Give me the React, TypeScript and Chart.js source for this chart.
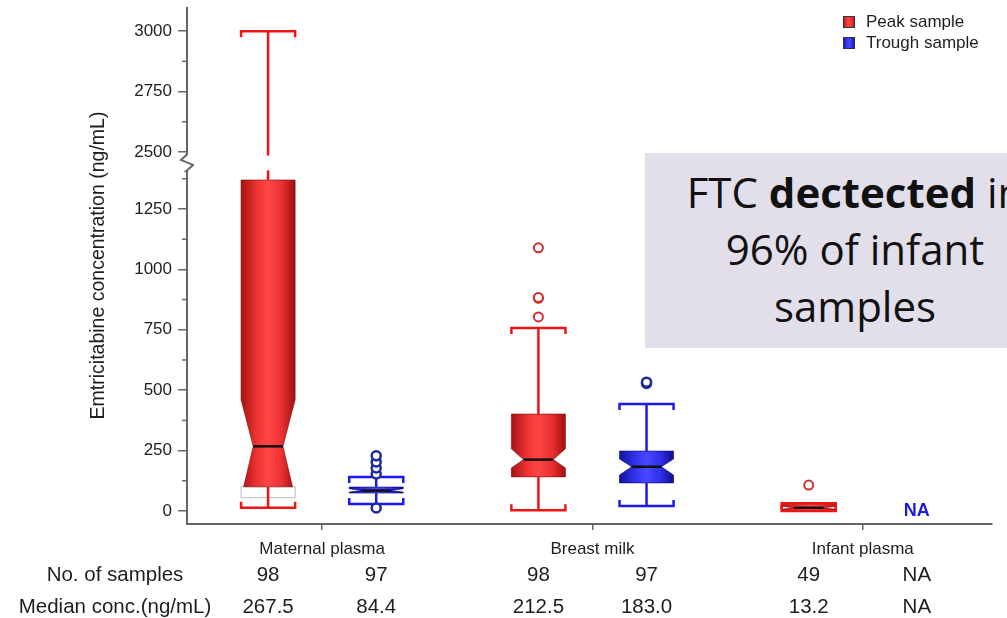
import React, { useEffect, useRef } from 'react';
import { Chart, registerables } from 'chart.js';

Chart.register(...registerables);

// ---------------- data ----------------
const categories = ['Maternal plasma', 'Breast milk', 'Infant plasma'];
const seriesNames = ['Peak sample', 'Trough sample'];

const peakWhiskerLow = [13, 3, 0];
const peakQ1 = [100, 141, 2];
const peakMedian = [267.5, 212.5, 13.2];
const peakQ3 = [1370, 401, 28];
const peakWhiskerHigh = [3000, 757, 32];
const peakNotchLow = [55, 178, 7];
const peakNotchHigh = [460, 257, 19];
const peakOutliers = [[], [803, 880, 884, 1089], [107]];

const troughWhiskerLow = [29, 21, null];
const troughQ1 = [74, 116, null];
const troughMedian = [84.4, 183.0, null];
const troughQ3 = [99, 248, null];
const troughWhiskerHigh = [141, 443, null];
const troughNotchLow = [78, 149, null];
const troughNotchHigh = [92, 215, null];
const troughOutliers = [[12, 153, 178, 203, 228], [528, 533], []];

const peakCounts = ['98', '98', '49'];
const troughCounts = ['97', '97', 'NA'];
const peakMedianLabels = ['267.5', '212.5', '13.2'];
const troughMedianLabels = ['84.4', '183.0', 'NA'];
const rowLabels = ['No. of samples', 'Median conc.(ng/mL)'];

const yTickValues = [0, 250, 500, 750, 1000, 1250, 2500, 2750, 3000];
const yMinorTicks = [125, 375, 625, 875, 1125, 1375, 2625, 2875];
const yTitle = 'Emtricitabine concentration (ng/mL)';
const naText = 'NA';

// ---------------- axis break ----------------
const BREAK_LOW = 1410;
const BREAK_HIGH = 2485;
const BREAK_SHIFT = 1014;
const toAxis = (v: number) => (v <= BREAK_LOW ? v : v - BREAK_SHIFT);
const fromAxis = (t: number) => (t <= BREAK_LOW ? t : t + BREAK_SHIFT);

// ---------------- styles ----------------
const FONT = "'Liberation Sans', Arial, Helvetica, sans-serif";
const GROUP_OFFSET = 0.2;
const BOX_HALF = 0.1;
const NOTCH_INSET = 0.45;
const CAP_TICK = 6;
const AXIS_COLOR = '#666666';
const TEXT_COLOR = '#1e1e1e';

const RED = {
  whisker: '#f01414',
  stroke: 'rgba(120,0,0,0.55)',
  stops: [[0, '#a81212'], [0.3, '#f03434'], [0.5, '#ff4646'], [0.75, '#ea3030'], [1, '#a01010']],
  point: '#d03030',
};
const BLUE = {
  whisker: '#1a1af0',
  stroke: 'rgba(0,0,110,0.55)',
  stops: [[0, '#12129c'], [0.3, '#3434f0'], [0.5, '#4848ff'], [0.75, '#3030ea'], [1, '#0e0e8c']],
  point: '#1c2a9a',
};

function drawBoxPlot(ctx: any, xs: any, ys: any, pos: number, s: any, sty: any) {
  const xc = xs.getPixelForValue(pos);
  const half = xs.getPixelForValue(pos + BOX_HALF) - xc;
  const L = xc - half;
  const R = xc + half;
  const inset = half * NOTCH_INSET;
  const py = (v: number) => ys.getPixelForValue(toAxis(v));
  const yQ1 = py(s.q1), yQ3 = py(s.q3), yMed = py(s.med), yNl = py(s.nl), yNh = py(s.nh);
  const yLo = py(s.lo), yHi = py(s.hi);

  ctx.save();
  ctx.fillStyle = '#ffffff';
  ctx.strokeStyle = '#bdbdbd';
  ctx.lineWidth = 1;
  if (yNl > yQ1) {
    ctx.fillRect(L, yQ1, R - L, yNl - yQ1);
    ctx.strokeRect(L, yQ1, R - L, yNl - yQ1);
  }
  if (yNh < yQ3) {
    ctx.fillRect(L, yNh, R - L, yQ3 - yNh);
    ctx.strokeRect(L, yNh, R - L, yQ3 - yNh);
  }

  const fr = (y: number, yEnd: number) => {
    const d = yMed - yEnd;
    if (d === 0) return 1;
    return Math.max(0, Math.min(1, (y - yEnd) / d));
  };
  const right: number[][] = [];
  right.push([R - inset * fr(yQ3, yNh), yQ3]);
  if (yNh > yQ3) right.push([R, yNh]);
  right.push([R - inset, yMed]);
  if (yNl < yQ1) right.push([R, yNl]);
  right.push([R - inset * fr(yQ1, yNl), yQ1]);
  const left = right.map(([x, y]) => [L + (R - x), y]).reverse();
  const poly = right.concat(left);
  const grad = ctx.createLinearGradient(L, 0, R, 0);
  sty.stops.forEach(([o, c]: any) => grad.addColorStop(o, c));
  ctx.beginPath();
  poly.forEach(([x, y], i) => (i === 0 ? ctx.moveTo(x, y) : ctx.lineTo(x, y)));
  ctx.closePath();
  ctx.fillStyle = grad;
  ctx.fill();
  ctx.strokeStyle = sty.stroke;
  ctx.lineWidth = 1;
  ctx.stroke();

  ctx.strokeStyle = sty.whisker;
  ctx.lineWidth = 2.5;
  ctx.lineCap = 'butt';
  const seg = (a: number, b: number) => {
    const parts: number[][] = [];
    if (a < BREAK_LOW && b > BREAK_HIGH) {
      parts.push([a, BREAK_LOW], [BREAK_HIGH, b]);
    } else parts.push([a, b]);
    parts.forEach(([p, q]) => {
      ctx.beginPath();
      ctx.moveTo(xc, py(p));
      ctx.lineTo(xc, py(q));
      ctx.stroke();
    });
  };
  seg(s.q3, s.hi);
  seg(s.lo, s.q1);
  ctx.beginPath();
  ctx.moveTo(L, yHi + CAP_TICK);
  ctx.lineTo(L, yHi);
  ctx.lineTo(R, yHi);
  ctx.lineTo(R, yHi + CAP_TICK);
  ctx.stroke();
  ctx.beginPath();
  ctx.moveTo(L, yLo - CAP_TICK);
  ctx.lineTo(L, yLo);
  ctx.lineTo(R, yLo);
  ctx.lineTo(R, yLo - CAP_TICK);
  ctx.stroke();

  ctx.strokeStyle = '#111111';
  ctx.lineWidth = 2.5;
  ctx.beginPath();
  ctx.moveTo(L + inset, yMed);
  ctx.lineTo(R - inset, yMed);
  ctx.stroke();
  ctx.restore();
}

const boxPlugin = {
  id: 'boxPlugin',
  beforeDatasetsDraw(chart: any) {
    const { ctx } = chart;
    const xs = chart.scales.x;
    const ys = chart.scales.y;
    categories.forEach((_, i) => {
      drawBoxPlot(ctx, xs, ys, i - GROUP_OFFSET, {
        lo: peakWhiskerLow[i], q1: peakQ1[i], med: peakMedian[i], q3: peakQ3[i],
        hi: peakWhiskerHigh[i], nl: peakNotchLow[i], nh: peakNotchHigh[i],
      }, RED);
      if (troughMedian[i] !== null) {
        drawBoxPlot(ctx, xs, ys, i + GROUP_OFFSET, {
          lo: troughWhiskerLow[i], q1: troughQ1[i], med: troughMedian[i], q3: troughQ3[i],
          hi: troughWhiskerHigh[i], nl: troughNotchLow[i], nh: troughNotchHigh[i],
        }, BLUE);
      } else {
        ctx.save();
        ctx.font = `bold 18px ${FONT}`;
        ctx.fillStyle = '#1a1ae0';
        ctx.textAlign = 'center';
        ctx.textBaseline = 'middle';
        ctx.fillText(naText, xs.getPixelForValue(i + GROUP_OFFSET), ys.getPixelForValue(toAxis(0)));
        ctx.restore();
      }
    });
  },
  afterDraw(chart: any) {
    const { ctx, chartArea } = chart;
    const xs = chart.scales.x;
    const ys = chart.scales.y;
    const ax = chartArea.left;
    ctx.save();
    const yb1 = ys.getPixelForValue(toAxis(BREAK_HIGH)) - 1;
    const yb2 = ys.getPixelForValue(toAxis(BREAK_LOW)) + 1;
    const mid = (yb1 + yb2) / 2;
    ctx.strokeStyle = AXIS_COLOR;
    ctx.lineWidth = 2;
    ctx.beginPath();
    ctx.moveTo(ax, chartArea.top);
    ctx.lineTo(ax, yb1);
    ctx.lineTo(ax - 6, mid - 3);
    ctx.lineTo(ax + 6, mid + 2);
    ctx.lineTo(ax - 1, yb2);
    ctx.lineTo(ax, yb2);
    ctx.lineTo(ax, chartArea.bottom + 1);
    ctx.stroke();
    ctx.lineWidth = 1.5;
    yMinorTicks.forEach((v) => {
      const y = ys.getPixelForValue(toAxis(v));
      ctx.beginPath();
      ctx.moveTo(ax - 5, y);
      ctx.lineTo(ax, y);
      ctx.stroke();
    });

    const legendX = 843;
    const legendY = [16, 37];
    [RED, BLUE].forEach((sty, k) => {
      const g = ctx.createLinearGradient(legendX, 0, legendX + 12, 0);
      sty.stops.forEach(([o, c]: any) => g.addColorStop(o, c));
      ctx.fillStyle = g;
      ctx.fillRect(legendX, legendY[k], 12, 12);
      ctx.strokeStyle = '#333';
      ctx.lineWidth = 1;
      ctx.strokeRect(legendX + 0.5, legendY[k] + 0.5, 11, 11);
      ctx.fillStyle = TEXT_COLOR;
      ctx.font = `17px ${FONT}`;
      ctx.textAlign = 'left';
      ctx.textBaseline = 'middle';
      ctx.fillText(seriesNames[k], legendX + 23, legendY[k] + 6.5);
    });

    ctx.font = `20.5px ${FONT}`;
    ctx.fillStyle = TEXT_COLOR;
    ctx.textAlign = 'center';
    ctx.textBaseline = 'middle';
    const rowY = [575, 607];
    ctx.fillText(rowLabels[0], 115, rowY[0]);
    ctx.fillText(rowLabels[1], 115, rowY[1]);
    categories.forEach((_, i) => {
      const xp = xs.getPixelForValue(i - GROUP_OFFSET);
      const xt = xs.getPixelForValue(i + GROUP_OFFSET);
      ctx.fillText(peakCounts[i], xp, rowY[0]);
      ctx.fillText(troughCounts[i], xt, rowY[0]);
      ctx.fillText(peakMedianLabels[i], xp, rowY[1]);
      ctx.fillText(troughMedianLabels[i], xt, rowY[1]);
    });
    ctx.restore();
  },
};

function outlierPoints(list: number[][], offset: number) {
  const pts: any[] = [];
  list.forEach((vals, i) => vals.forEach((v) => pts.push({ x: i + offset, y: toAxis(v) })));
  return pts;
}

export default function App() {
  const ref = useRef<HTMLCanvasElement>(null);
  useEffect(() => {
    if (!ref.current) return;
    Chart.defaults.font.family = FONT;
    const chart = new Chart(ref.current, {
      type: 'scatter',
      data: {
        datasets: [
          {
            label: seriesNames[0],
            data: outlierPoints(peakOutliers, -GROUP_OFFSET),
            pointRadius: 4.5,
            pointBorderWidth: 2,
            borderColor: RED.point,
            backgroundColor: '#ffffff',
          },
          {
            label: seriesNames[1],
            data: outlierPoints(troughOutliers, GROUP_OFFSET),
            pointRadius: 4.5,
            pointBorderWidth: 2.5,
            borderColor: BLUE.point,
            backgroundColor: '#ffffff',
          },
        ],
      },
      options: {
        responsive: false,
        animation: false,
        events: [],
        layout: { padding: { left: 0, right: 15, top: 7, bottom: 0 } },
        plugins: { legend: { display: false }, tooltip: { enabled: false } },
        scales: {
          x: {
            type: 'linear',
            min: -0.5,
            max: 2.478,
            afterBuildTicks: (scale: any) => {
              scale.ticks = categories.map((_, i) => ({ value: i }));
            },
            afterFit: (scale: any) => {
              scale.height = 94;
              scale.paddingLeft = 0;
              scale.paddingRight = 0;
            },
            ticks: {
              callback: (v: any) => categories[Math.round(v)] ?? '',
              font: { size: 17 },
              color: TEXT_COLOR,
              padding: 9,
              maxRotation: 0,
              autoSkip: false,
            },
            grid: {
              drawOnChartArea: false,
              drawTicks: true,
              tickLength: 6,
              color: AXIS_COLOR,
              lineWidth: 1.5,
            },
            border: { display: true, color: AXIS_COLOR, width: 2 },
          },
          y: {
            type: 'linear',
            min: -54,
            max: 2086,
            afterBuildTicks: (scale: any) => {
              scale.ticks = yTickValues.map((v) => ({ value: toAxis(v) }));
            },
            afterFit: (scale: any) => {
              scale.width = 187;
              scale.paddingTop = 0;
              scale.paddingBottom = 0;
            },
            ticks: {
              callback: (v: any) => String(fromAxis(v)),
              font: { size: 17 },
              color: TEXT_COLOR,
              padding: 6,
              autoSkip: false,
            },
            grid: {
              drawOnChartArea: false,
              drawTicks: true,
              tickLength: 9,
              color: AXIS_COLOR,
              lineWidth: 1.5,
            },
            border: { display: false },
            title: {
              display: true,
              text: yTitle,
              font: { size: 19.5 },
              color: TEXT_COLOR,
              padding: { top: 87, bottom: 0 },
            },
          },
        },
      },
      plugins: [boxPlugin],
    } as any);
    return () => chart.destroy();
  }, []);

  return (
    <div
      style={{
        position: 'absolute',
        left: 0,
        top: 0,
        width: 1007,
        height: 618,
        overflow: 'hidden',
        background: '#ffffff',
      }}
    >
      <canvas ref={ref} width={1007} height={618} style={{ display: 'block' }} />
      <div
        style={{
          position: 'absolute',
          left: 645,
          top: 153,
          width: 420,
          height: 195,
          background: '#e2dfea',
          fontFamily: "'Open Sans', 'Noto Sans', sans-serif",
          fontSize: 42,
          lineHeight: '57px',
          color: '#111111',
          textAlign: 'center',
          boxSizing: 'border-box',
          paddingTop: 10,
          whiteSpace: 'nowrap',
        }}
      >
        <div>
          FTC <span style={{ fontWeight: 700 }}>dectected</span> in
        </div>
        <div>96% of infant</div>
        <div>samples</div>
      </div>
    </div>
  );
}
